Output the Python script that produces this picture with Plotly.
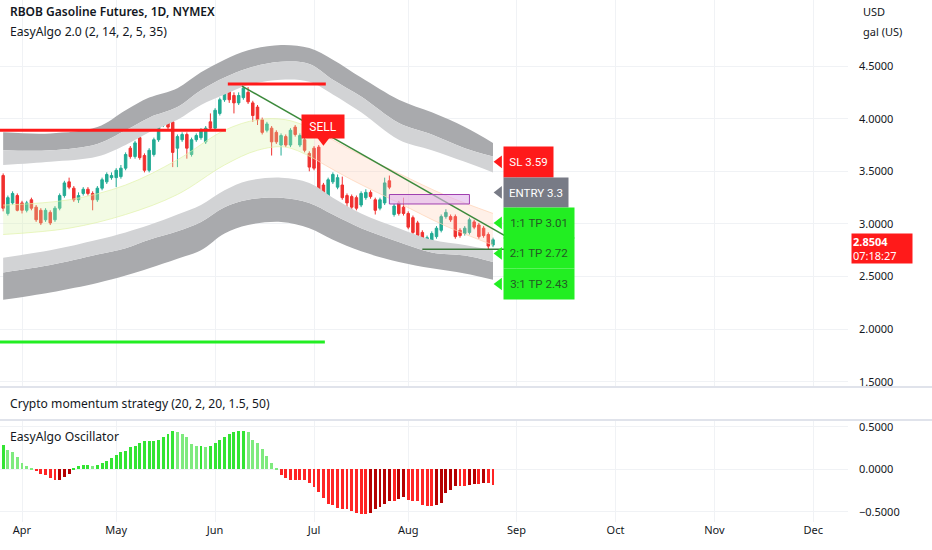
import plotly.graph_objects as go
from plotly.subplots import make_subplots

# one x unit per trading day, bar 0 = 1 Apr
bars = list(range(-4, 101))

opens = [3.46, 3.10, 3.20, 3.27, 3.20, 3.13, 3.23, 3.16, 3.13, 3.04, 3.11, 3.04, 3.15, 3.27, 3.40,
         3.34, 3.23, 3.29, 3.33, 3.29, 3.23, 3.34, 3.40, 3.44, 3.44, 3.45, 3.53, 3.72, 3.64, 3.82,
         3.65, 3.51, 3.66, 3.80, 3.94, 4.02, 3.97, 3.72, 3.80, 3.85, 3.66, 3.80, 3.82, 3.78, 3.97,
         3.91, 4.05, 4.18, 4.27, 4.22, 4.15, 4.20, 4.25, 4.15, 4.11, 3.99, 3.89, 3.91, 3.87, 3.75,
         3.83, 3.75, 3.92, 3.75, 3.80, 3.67, 3.72, 3.73, 3.37, 3.23, 3.40, 3.35, 3.37, 3.27, 3.26,
         3.25, 3.18, 3.25, 3.30, 3.23, 3.15, 3.20, 3.41, 3.09, 3.20, 3.16, 3.10, 3.06, 3.01, 2.92,
         2.77, 2.83, 2.88, 2.94, 3.07, 3.07, 3.07, 2.94, 2.91, 2.92, 3.02, 2.99, 2.96, 2.90, 2.80]
highs = [3.48, 3.27, 3.31, 3.29, 3.22, 3.22, 3.25, 3.18, 3.15, 3.15, 3.13, 3.17, 3.29, 3.41, 3.44,
         3.36, 3.30, 3.35, 3.35, 3.31, 3.36, 3.44, 3.49, 3.49, 3.53, 3.56, 3.68, 3.74, 3.79, 3.84,
         3.67, 3.72, 3.82, 3.98, 4.05, 4.05, 3.99, 3.85, 3.87, 3.87, 3.82, 3.86, 3.91, 3.93, 4.05,
         4.10, 4.20, 4.33, 4.32, 4.25, 4.25, 4.31, 4.30, 4.17, 4.13, 4.01, 3.97, 3.93, 3.89, 3.86,
         3.85, 3.91, 3.94, 3.86, 3.82, 3.69, 3.74, 3.75, 3.39, 3.44, 3.49, 3.47, 3.45, 3.29, 3.28,
         3.27, 3.31, 3.33, 3.32, 3.25, 3.25, 3.44, 3.46, 3.19, 3.22, 3.25, 3.12, 3.08, 3.03, 2.94,
         2.89, 2.93, 2.98, 3.09, 3.14, 3.09, 3.09, 2.96, 2.98, 3.06, 3.04, 3.01, 2.98, 2.92, 2.87]
lows = [3.12, 3.08, 3.18, 3.12, 3.10, 3.11, 3.13, 3.02, 2.99, 3.02, 2.99, 3.02, 3.13, 3.25, 3.33,
        3.21, 3.20, 3.27, 3.27, 3.13, 3.21, 3.32, 3.38, 3.42, 3.35, 3.43, 3.51, 3.62, 3.62, 3.61,
        3.49, 3.49, 3.64, 3.78, 3.92, 3.90, 3.54, 3.54, 3.78, 3.62, 3.64, 3.78, 3.80, 3.76, 3.89,
        3.89, 4.03, 4.16, 4.15, 4.05, 4.13, 4.18, 4.14, 3.97, 3.94, 3.85, 3.87, 3.65, 3.76, 3.65,
        3.73, 3.73, 3.83, 3.73, 3.68, 3.50, 3.51, 3.23, 3.21, 3.21, 3.38, 3.33, 3.23, 3.16, 3.12,
        3.13, 3.16, 3.23, 3.24, 3.09, 3.13, 3.18, 3.33, 3.07, 3.08, 3.08, 2.95, 2.90, 2.87, 2.75,
        2.75, 2.80, 2.86, 2.92, 3.05, 3.02, 2.86, 2.87, 2.89, 2.90, 2.95, 2.86, 2.87, 2.76, 2.78]
closes = [3.15, 3.25, 3.29, 3.13, 3.13, 3.20, 3.15, 3.04, 3.01, 3.13, 3.01, 3.15, 3.27, 3.39, 3.35,
          3.23, 3.27, 3.33, 3.29, 3.23, 3.34, 3.42, 3.47, 3.46, 3.51, 3.53, 3.66, 3.64, 3.77, 3.63,
          3.51, 3.70, 3.80, 3.96, 4.02, 3.92, 3.68, 3.83, 3.85, 3.72, 3.80, 3.84, 3.89, 3.91, 3.91,
          4.08, 4.18, 4.29, 4.18, 4.15, 4.22, 4.29, 4.16, 4.03, 3.99, 3.87, 3.95, 3.78, 3.78, 3.84,
          3.75, 3.89, 3.85, 3.84, 3.70, 3.54, 3.53, 3.29, 3.23, 3.42, 3.47, 3.44, 3.25, 3.20, 3.16,
          3.15, 3.29, 3.30, 3.26, 3.13, 3.23, 3.39, 3.35, 3.17, 3.10, 3.10, 2.97, 2.92, 2.89, 2.78,
          2.87, 2.91, 2.96, 3.07, 3.11, 3.04, 2.88, 2.89, 2.96, 3.04, 2.97, 2.88, 2.89, 2.79, 2.85]

# EasyAlgo oscillator, one value per bar
osc = [0.29, 0.23, 0.20, 0.14, 0.08, 0.04, 0.02, -0.01, -0.05, -0.07, -0.10, -0.13, -0.12, -0.09,
       -0.05, 0.01, 0.04, 0.05, 0.05, 0.04, 0.05, 0.07, 0.10, 0.13, 0.17, 0.20, 0.22, 0.26, 0.28,
       0.31, 0.33, 0.33, 0.33, 0.35, 0.38, 0.42, 0.45, 0.44, 0.42, 0.38, 0.30, 0.28, 0.28, 0.26,
       0.28, 0.31, 0.34, 0.38, 0.42, 0.44, 0.45, 0.45, 0.44, 0.35, 0.31, 0.24, 0.16, 0.07, 0.01,
       -0.07, -0.10, -0.12, -0.12, -0.13, -0.13, -0.16, -0.21, -0.27, -0.34, -0.41, -0.42, -0.45,
       -0.47, -0.47, -0.49, -0.51, -0.53, -0.53, -0.51, -0.47, -0.44, -0.41, -0.37, -0.37, -0.35,
       -0.32, -0.36, -0.37, -0.37, -0.42, -0.43, -0.43, -0.42, -0.40, -0.28, -0.24, -0.20, -0.20,
       -0.20, -0.18, -0.17, -0.17, -0.16, -0.16, -0.18]

# envelope bands (read at a few bars)
band_bars = [-4, 6, 16, 22, 27, 33, 38, 43, 48, 55, 61, 66, 72, 80, 87, 94, 100]
upper_outer = [3.87, 3.86, 3.92, 4.08, 4.20, 4.29, 4.44, 4.56, 4.65, 4.70, 4.67, 4.56, 4.39, 4.18, 4.06, 3.92, 3.77]
upper_mid = [3.70, 3.70, 3.76, 3.89, 4.01, 4.11, 4.27, 4.39, 4.48, 4.54, 4.52, 4.37, 4.21, 3.96, 3.85, 3.72, 3.64]
upper_inner = [3.56, 3.59, 3.64, 3.75, 3.87, 3.99, 4.13, 4.23, 4.32, 4.37, 4.35, 4.23, 4.06, 3.80, 3.70, 3.59, 3.49]
lower_inner = [2.68, 2.75, 2.85, 2.92, 2.99, 3.09, 3.18, 3.32, 3.41, 3.44, 3.39, 3.25, 3.10, 2.96, 2.85, 2.80, 2.75]
lower_mid = [2.54, 2.61, 2.71, 2.77, 2.85, 2.93, 3.02, 3.16, 3.23, 3.25, 3.20, 3.09, 2.96, 2.83, 2.73, 2.70, 2.64]
lower_outer = [2.28, 2.35, 2.44, 2.51, 2.58, 2.67, 2.75, 2.91, 2.99, 3.02, 2.96, 2.85, 2.74, 2.64, 2.58, 2.53, 2.47]

# trend cloud
cloud_bars = [-4, 10, 22, 33, 43, 50, 56, 62, 70, 80, 90, 100]
cloud_top = [3.18, 3.23, 3.37, 3.61, 3.89, 3.99, 3.99, 3.90, 3.70, 3.48, 3.27, 3.10]
cloud_bottom = [2.90, 2.96, 3.09, 3.28, 3.56, 3.70, 3.73, 3.62, 3.42, 3.20, 2.98, 2.80]
cloud_switch = 7  # index in cloud_bars where bull cloud turns bear

# levels and drawings
red_level_price = [3.89, 4.33]
red_level_from = [-5, 43.7]
red_level_to = [43.3, 64.5]
green_level_price = 1.88
green_level_to = 64.3
trend_bars = [46.7, 102.5]
trend_prices = [4.31, 2.89]
support_bars = [85, 102.5]
support_price = 2.76
zone_bars = [78, 95]
zone_prices = [3.19, 3.28]

sell_bar = 64
sell_price = 3.75
sl_price = 3.59
entry_price = 3.30
tp_prices = [3.01, 2.72, 2.43]
tp_names = ["1:1 TP 3.01", "2:1 TP 2.72", "3:1 TP 2.43"]
last_price = "2.8504"
countdown = "07:18:27"

month_bars = [0, 20, 41, 62, 82, 105, 126, 147, 168]
month_names = ["Apr", "May", "Jun", "Jul", "Aug", "Sep", "Oct", "Nov", "Dec"]
price_ticks = [1.5, 2.0, 2.5, 3.0, 3.5, 4.0, 4.5]
osc_ticks = [-0.5, 0.0, 0.5]

GREEN = "#22ab94"
RED = "#f0302f"
LABEL_RED = "#ff1a1a"
LIME = "#22ee22"
GRID = "#f0f2f5"
TXT = "#131722"
FONT = "Noto Sans"

fig = make_subplots(rows=3, cols=1, shared_xaxes=True, vertical_spacing=0,
                    row_heights=[387, 33, 102])

# gray envelopes
for outer, mid, inner in [(upper_outer, upper_mid, upper_inner),
                          (lower_outer, lower_mid, lower_inner)]:
    fig.add_trace(go.Scatter(x=band_bars, y=outer, mode="lines", line=dict(width=0, shape="spline")), 1, 1)
    fig.add_trace(go.Scatter(x=band_bars, y=mid, mode="lines", line=dict(width=0, shape="spline"),
                             fill="tonexty", fillcolor="#a9aaad"), 1, 1)
    fig.add_trace(go.Scatter(x=band_bars, y=inner, mode="lines", line=dict(width=0, shape="spline"),
                             fill="tonexty", fillcolor="#d2d3d5"), 1, 1)

fig.add_trace(go.Candlestick(
    x=bars, open=opens, high=highs, low=lows, close=closes, whiskerwidth=0,
    increasing=dict(line=dict(color=GREEN, width=1), fillcolor=GREEN),
    decreasing=dict(line=dict(color=RED, width=1), fillcolor=RED),
), 1, 1)

# trend cloud on top of candles
s = cloud_switch
for xs, top, bot, col, edge in [
    (cloud_bars[:s + 1], cloud_top[:s + 1], cloud_bottom[:s + 1], "rgba(215,242,165,0.3)", "rgba(225,242,170,0.7)"),
    (cloud_bars[s:], cloud_top[s:], cloud_bottom[s:], "rgba(255,195,165,0.25)", "rgba(255,210,180,0.7)"),
]:
    fig.add_trace(go.Scatter(x=xs, y=top, mode="lines", line=dict(width=1, color=edge, shape="spline")), 1, 1)
    fig.add_trace(go.Scatter(x=xs, y=bot, mode="lines", line=dict(width=1, color=edge, shape="spline"),
                             fill="tonexty", fillcolor=col), 1, 1)

for p, a, b in zip(red_level_price, red_level_from, red_level_to):
    fig.add_trace(go.Scatter(x=[a, b], y=[p, p], mode="lines", line=dict(color="#ff1a1a", width=3)), 1, 1)
fig.add_trace(go.Scatter(x=[-5, green_level_to], y=[green_level_price] * 2, mode="lines",
                         line=dict(color="#22ee22", width=3)), 1, 1)
fig.add_trace(go.Scatter(x=trend_bars, y=trend_prices, mode="lines",
                         line=dict(color="#3c8a3c", width=1.5)), 1, 1)
fig.add_trace(go.Scatter(x=support_bars, y=[support_price] * 2, mode="lines",
                         line=dict(color="#3c7a3c", width=1.5)), 1, 1)
fig.add_shape(type="rect", x0=zone_bars[0], x1=zone_bars[1], y0=zone_prices[0], y1=zone_prices[1],
              xref="x", yref="y", fillcolor="rgba(225,180,235,0.6)", line=dict(color="#a040b0", width=1))

# SELL signal
fig.add_trace(go.Scatter(x=[sell_bar], y=[sell_price + 0.05], mode="markers",
                         marker=dict(symbol="triangle-down", size=12, color=LABEL_RED)), 1, 1)
fig.add_annotation(x=sell_bar, y=sell_price, xref="x", yref="y", yshift=19, text="SELL",
                   showarrow=False, bgcolor=LABEL_RED, width=40, height=21,
                   font=dict(family="Roboto", size=12, color="white"))

# trade labels on the right
labels = [("SL %.2f" % sl_price, sl_price, LABEL_RED, "white", 49, 30),
          ("ENTRY %.1f" % entry_price, entry_price, "#787b86", "white", 64, 29)]
labels += [(n, p, LIME, "#245a24", 70, 30) for n, p in zip(tp_names, tp_prices)]
for text, p, bg, fg, w, h in labels:
    fig.add_trace(go.Scatter(x=[101.3], y=[p], mode="markers",
                             marker=dict(symbol="triangle-left", size=11, color=bg)), 1, 1)
    fig.add_annotation(x=102.1, y=p, xref="x", yref="y", xanchor="left", text=text,
                       showarrow=False, bgcolor=bg, width=w, height=h, borderpad=0,
                       font=dict(family="Roboto", size=11.5, color=fg))

# oscillator
osc_colors = []
for k, v in enumerate(osc):
    prev = osc[k - 1] if k else v
    if v >= 0:
        osc_colors.append("#33e433" if v >= prev else "#7eea7e")
    else:
        osc_colors.append("#ff2424" if v <= prev else "#b50000")
fig.add_trace(go.Bar(x=bars, y=osc, marker=dict(color=osc_colors, line=dict(width=0)), width=0.62), 3, 1)

fig.update_xaxes(range=[-4.67, 175.37], tickvals=month_bars, ticktext=month_names,
                 showgrid=True, gridcolor=GRID, zeroline=False, showline=False,
                 rangeslider_visible=False, showticklabels=False)
fig.update_xaxes(showgrid=False, row=2, col=1)
fig.update_xaxes(showticklabels=True, tickfont=dict(family=FONT, size=11, color=TXT), row=3, col=1)

fig.update_yaxes(side="right", showgrid=True, gridcolor=GRID, zeroline=False, showline=False,
                 tickfont=dict(family=FONT, size=11, color=TXT), ticklabelstandoff=10, tickformat=".4f")
fig.update_yaxes(range=[1.452, 5.127], tickvals=price_ticks, row=1, col=1)
fig.update_yaxes(visible=False, showgrid=False, row=2, col=1)
fig.update_yaxes(range=[-0.62, 0.58], tickvals=osc_ticks, row=3, col=1)

H = 522.0
texts = [
    ("RBOB Gasoline Futures, 1D, NYMEX", 8, 12, 12, 600),
    ("EasyAlgo 2.0 (2, 14, 2, 5, 35)", 8, 32, 12.2, 400),
    ("Crypto momentum strategy (20, 2, 20, 1.5, 50)", 8, 403, 12.1, 400),
    ("EasyAlgo Oscillator", 8, 436, 12.2, 400),
    ("USD", 861, 12, 11, 400),
    ("gal (US)", 861, 31, 11, 400),
]
for t, px, py, sz, wt in texts:
    fig.add_annotation(x=px / 848, y=1 - py / H, xref="paper", yref="paper", xanchor="left",
                       yanchor="middle", text=t, showarrow=False,
                       font=dict(family=FONT, size=sz, color=TXT, weight=wt))

fig.add_annotation(x=851 / 848, y=closes[-1], xref="paper", yref="y", xanchor="left", yanchor="top",
                   yshift=7, text="<b>%s</b><br>%s" % (last_price, countdown), showarrow=False,
                   align="left", bgcolor=LABEL_RED, width=58, height=27, borderpad=1,
                   font=dict(family=FONT, size=11, color="white"))

for py in (387, 420):
    fig.add_shape(type="line", xref="paper", yref="paper", x0=0, x1=932 / 848,
                  y0=1 - py / H, y1=1 - py / H, line=dict(color="#e0e3eb", width=2))

fig.update_layout(width=932, height=550, margin=dict(l=0, r=84, t=0, b=28),
                  paper_bgcolor="white", plot_bgcolor="white", showlegend=False,
                  hovermode=False, bargap=0, boxgap=0.25)

# the page body has an 8px default margin; drop it so the figure sits at the window corner
fig.write_html("out.html", config={"displayModeBar": False},
               post_script="document.body.style.margin='0px';")
